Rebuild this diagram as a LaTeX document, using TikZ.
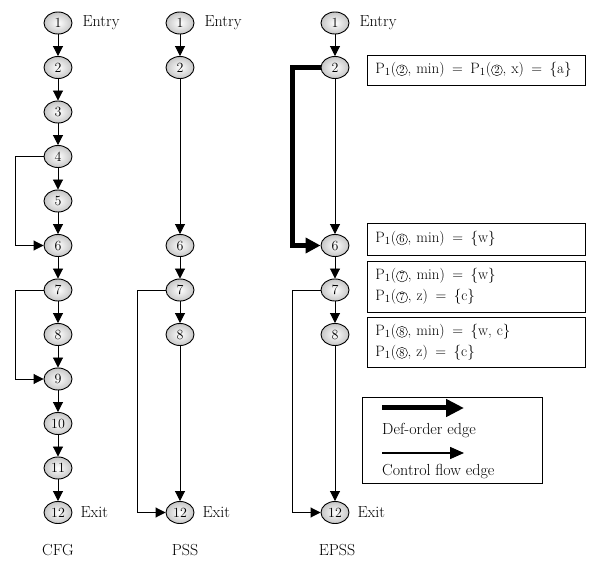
\documentclass[tikz,border=0pt]{standalone}
\usepackage{fontspec}
\usetikzlibrary{shapes.geometric,arrows.meta,positioning}
\newcommand{\cnum}[1]{\tikz[baseline=(cn.base)]\node[circle,draw,line width=0.45pt,inner sep=0.8pt,
  minimum width=0pt,minimum height=0pt,text width={},align=center,anchor=center,
  font=\fontsize{10.5}{10.5}\selectfont] (cn) {#1};}
\newcommand{\eq}{\enspace=\enspace}

\begin{document}
\begin{tikzpicture}[x=1pt,y=-1pt,
  every node/.style={font=\fontsize{16}{22}\selectfont},
  nd/.style={ellipse,draw,line width=0.9pt,minimum width=28pt,minimum height=22pt,inner sep=0pt,
    shading=radial,inner color=white,outer color=gray!45,font=\fontsize{14}{14}\selectfont},
  cf/.style={-{Triangle[length=10pt,width=10pt]},line width=0.9pt},
  deford/.style={-{Triangle[length=15pt,width=15pt]},line width=4.5pt},
  pbox/.style={draw,line width=0.9pt,anchor=west,inner xsep=8pt,text width=202pt,align=left,
    font=\fontsize{15}{21}\selectfont},
  lbl/.style={inner sep=2pt}]
                \useasboundingbox (0,0) rectangle (590,564);

                % CFG: alle Knoten untereinander
                \foreach \i in {1,...,12}
                  \node[nd] (c\i) at (58,{23+(\i-1)*44.5}) {\i};
                \foreach \a/\b in {1/2,2/3,3/4,4/5,5/6,6/7,7/8,8/9,9/10,10/11,11/12}
                  \draw[cf] (c\a) -- (c\b);
                \draw[cf] (c4.west) -- ++(-28,0) |- (c6.west);
                \draw[cf] (c7.west) -- ++(-28,0) |- (c9.west);

                % PSS
                \foreach \i in {1,2,6,7,8,12}
                  \node[nd] (p\i) at (180,{23+(\i-1)*44.5}) {\i};
                \foreach \a/\b in {1/2,2/6,6/7,7/8,8/12}
                  \draw[cf] (p\a) -- (p\b);
                \draw[cf] (p7.west) -- ++(-28,0) |- (p12.west);

                % EPSS
                \foreach \i in {1,2,6,7,8,12}
                  \node[nd] (e\i) at (335,{23+(\i-1)*44.5}) {\i};
                \foreach \a/\b in {1/2,2/6,6/7,7/8,8/12}
                  \draw[cf] (e\a) -- (e\b);
                \draw[deford] (e2.west) -- ++(-28,0) |- (e6.west);
                \draw[cf] (e7.west) -- ++(-28,0) |- (e12.west);

                % Entry / Exit
                \node[lbl, right=8pt of c1] {Entry};
                \node[lbl, right=8pt of p1] {Entry};
                \node[lbl, right=8pt of e1] {Entry};
                \node[lbl, right=6pt of c12] {Exit};
                \node[lbl, right=6pt of p12] {Exit};
                \node[lbl, right=6pt of e12] {Exit};

                % Mengen P1
                \node[pbox, minimum height=30pt] (b2) at (367,70)
                  {P$_1$(\cnum{2}, min)\eq P$_1$(\cnum{2}, x)\eq\{a\}};
                \node[pbox, minimum height=32pt] (b6) at (367,239)
                  {P$_1$(\cnum{6}, min)\eq\{w\}};
                \node[pbox, minimum height=51pt] (b7) at (367,286.5)
                  {P$_1$(\cnum{7}, min)\eq\{w\}\\P$_1$(\cnum{7}, z)\eq\{c\}};
                \node[pbox, minimum height=50pt] (b8) at (367,342)
                  {P$_1$(\cnum{8}, min)\eq\{w, c\}\\P$_1$(\cnum{8}, z)\eq\{c\}};

                % Legende
                \node[draw, line width=0.9pt, minimum width=180pt, minimum height=86pt, anchor=north west] (legend) at (362,397) {};
                \coordinate (d1) at (382,408);
                \coordinate (d2) at (464,408);
                \coordinate (f1) at (382,453);
                \coordinate (f2) at (464,453);
                \draw[-{Triangle[length=18pt,width=17pt]}, line width=5pt] (d1) -- (d2);
                \draw[-{Triangle[length=14pt,width=12pt]}, line width=1.6pt] (f1) -- (f2);
                \node[lbl, anchor=west] (dlab) at (380,431) {Def-order edge};
                \node[lbl, anchor=west] (flab) at (380,472) {Control flow edge};

                % Titel
                \node (tcfg) at (58,550) {CFG};
                \node (tpss) at (185,550) {PSS};
                \node (tepss) at (337,550) {EPSS};
\end{tikzpicture}
\end{document}
